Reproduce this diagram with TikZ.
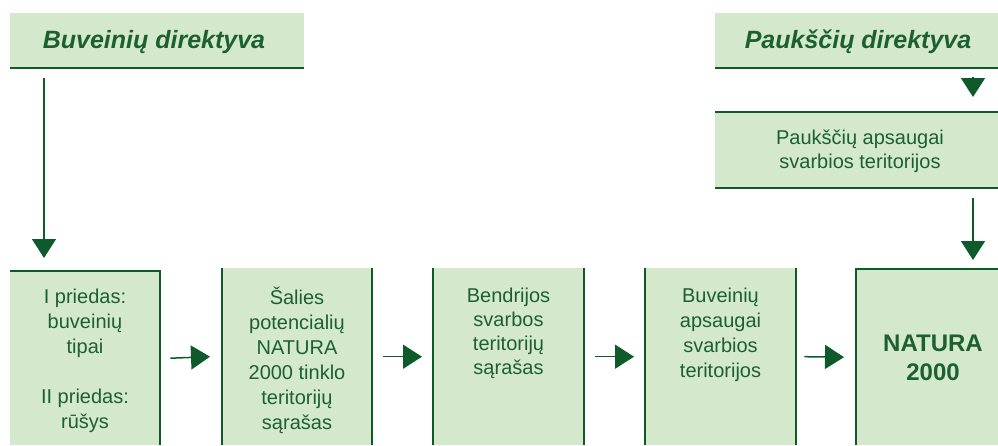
\documentclass[tikz,border=0pt]{standalone}
\usepackage{fontspec}
\setmainfont{Liberation Sans}
\usetikzlibrary{arrows.meta,calc}
\definecolor{fillg}{RGB}{212,232,204}
\definecolor{lineg}{RGB}{14,90,42}
\definecolor{textg}{RGB}{28,96,48}
\tikzset{
  boxfill/.style={fill=fillg, draw=none, inner sep=0pt, anchor=north west},
  edge/.style={draw=lineg, line width=2pt},
  arr/.style={draw=lineg, line width=1.5pt, -{Triangle[length=19pt,width=24pt]}, fill=lineg},
  body/.style={text=textg, font=\fontsize{20}{25}\selectfont, align=center, anchor=base, inner sep=0pt},
  head/.style={text=textg, font=\fontsize{25}{28}\selectfont\bfseries\itshape, anchor=base, inner sep=0pt},
}
\begin{document}
\begin{tikzpicture}[x=1pt,y=-1pt]
\useasboundingbox (0,0) rectangle (998,445);
% boxes
\node[boxfill, minimum width=294pt, minimum height=55pt] (h1) at (10,13) {};
\node[boxfill, minimum width=283pt, minimum height=55pt] (h2) at (715,13) {};
\node[boxfill, minimum width=283pt, minimum height=76pt] (p) at (715,112) {};
\node[boxfill, minimum width=150pt, minimum height=174pt] (b1) at (10,271) {};
\node[boxfill, minimum width=150pt, minimum height=177pt] (b2) at (222,268) {};
\node[boxfill, minimum width=151pt, minimum height=177pt] (b3) at (433,268) {};
\node[boxfill, minimum width=151pt, minimum height=177pt] (b4) at (645,268) {};
\node[boxfill, minimum width=142pt, minimum height=176pt] (b5) at (856,269) {};
% edges
\draw[edge] (h1.south west) -- (h1.south east);
\draw[edge] (h2.south west) -- (h2.south east);
\draw[edge] (p.north west) -- (p.north east);
\draw[edge] (p.south west) -- (p.south east);
\draw[edge] (b1.north west) -- (b1.north east) -- (b1.south east);
\draw[edge] (b2.north west) -- (b2.south west);
\draw[edge] (b2.north east) -- (b2.south east);
\draw[edge] (b3.north west) -- (b3.south west);
\draw[edge] (b3.north east) -- (b3.south east);
\draw[edge] (b4.north west) -- (b4.south west);
\draw[edge] (b4.north east) -- (b4.south east);
\draw[edge] (b5.south west) -- (b5.north west) -- (b5.north east);
% texts (anchor = baseline of last line)
\node[head] (t1) at (154,48) {Buveinių direktyva};
\node[head] (t2) at (858,48) {Paukščių direktyva};
\node[body, font=\fontsize{20}{23.5}\selectfont] (tp) at (860,168) {Paukščių apsaugai\\svarbios teritorijos};
\node[body] (tb1) at (85,428) {I priedas:\\buveinių\\tipai\\[25pt]II priedas:\\rūšys};
\node[body] (tb2) at (297,429) {Šalies\\potencialių\\NATURA\\2000 tinklo\\teritorijų\\sąrašas};
\node[body, font=\fontsize{20}{24}\selectfont] (tb3) at (508.5,374) {Bendrijos\\svarbos\\teritorijų\\sąrašas};
\node[body] (tb4) at (720.5,377) {Buveinių\\apsaugai\\svarbios\\teritorijos};
\node[body, font=\fontsize{24}{29}\selectfont\bfseries] (tb5) at (933,380) {NATURA\\2000};
% connectors
\draw[arr] ($(h1.south west)+(34,10)$) -- ($(b1.north west)+(34,-13)$);
\draw[arr] ($(h2.south west)+(258,9)$) -- ($(p.north west)+(258,-15)$);
\draw[arr] ($(p.south west)+(258,10)$) -- ($(b5.north west)+(117,-9)$);
\draw[arr] ($(b1.east)+(10,0)$) -- ($(b2.west)+(-12,0)$);
\draw[arr] ($(b2.east)+(11,0)$) -- ($(b3.west)+(-11,0)$);
\draw[arr] ($(b3.east)+(11,0)$) -- ($(b4.west)+(-11,0)$);
\draw[arr] ($(b4.east)+(8,0)$) -- ($(b5.west)+(-12,0)$);
\end{tikzpicture}
\end{document}
